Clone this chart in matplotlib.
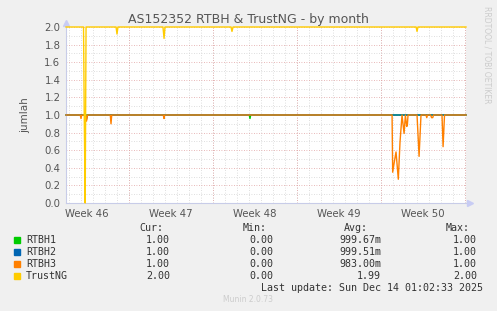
import matplotlib
matplotlib.use("Agg")
import matplotlib.pyplot as plt
import numpy as np

# time axis in days from the left edge of the graph window
week_labels = ["Week 46", "Week 47", "Week 48", "Week 49", "Week 50"]
week_starts = [5.25, 12.25, 19.25, 26.25, 33.25]
x_end = 33.33

# TrustNG (sits at 2.0 with a few dips)
trust_x = [0.0, 1.46, 1.52, 1.60, 1.67, 4.17, 4.25, 4.33, 8.08, 8.17, 8.25,
           13.75, 13.83, 13.92, 29.17, 29.25, 29.33, 33.33]
trust_y = [2.0, 2.0, 1.0, 0.0, 2.0, 2.0, 1.92, 2.0, 2.0, 1.87, 2.0,
           2.0, 1.95, 2.0, 2.0, 1.95, 2.0, 2.0]

# RTBH1
rtbh1_x = [0.0, 15.27, 15.33, 15.39, 33.33]
rtbh1_y = [1.0, 1.0, 0.96, 1.0, 1.0]

# RTBH2
rtbh2_x = [0.0, 1.63, 1.71, 1.79, 8.11, 8.17, 8.22, 33.33]
rtbh2_y = [1.0, 1.0, 0.95, 1.0, 1.0, 0.97, 1.0, 1.0]

# RTBH3
rtbh3_x = [0.0, 1.19, 1.25, 1.31, 1.63, 1.71, 1.79, 3.69, 3.75, 3.81,
           8.11, 8.17, 8.22,
           27.17, 27.22, 27.36, 27.50, 27.69, 27.83, 28.00, 28.17, 28.28,
           28.39, 28.44, 28.50, 29.25, 29.42, 29.58, 30.00, 30.06, 30.12,
           30.38, 30.46, 30.56, 30.62, 31.33, 31.42, 31.54, 33.33]
rtbh3_y = [1.0, 1.0, 0.96, 1.0, 1.0, 0.93, 1.0, 1.0, 0.90, 1.0,
           1.0, 0.96, 1.0,
           1.0, 0.35, 0.47, 0.58, 0.27, 0.69, 1.0, 0.79, 1.0,
           0.87, 0.88, 1.0, 1.0, 0.53, 1.0, 1.0, 0.97, 1.0,
           1.0, 0.97, 0.97, 1.0, 1.0, 0.64, 1.0, 1.0]

# legend table
names = ["RTBH1", "RTBH2", "RTBH3", "TrustNG"]
colors = ["#00CC00", "#0066B3", "#FF8000", "#FFCC00"]
cur = ["1.00", "1.00", "1.00", "2.00"]
mins = ["0.00", "0.00", "0.00", "0.00"]
avgs = ["999.67m", "999.51m", "983.00m", "1.99"]
maxs = ["1.00", "1.00", "1.00", "2.00"]

W, H = 497, 311
fig = plt.figure(figsize=(W / 100, H / 100), dpi=100, facecolor="#F0F0F0")
ax = fig.add_axes([66 / W, 108 / H, 400 / W, 176 / H])
ax.set_facecolor("white")

# grid
for d in np.arange(0.25, x_end, 1.0):
    ax.axvline(d, color="#D4D4D4", lw=0.6, ls=(0, (1, 2)), zorder=0)
for w in week_starts:
    ax.axvline(w, color="#E0A0A0", lw=0.6, ls=(0, (1, 2)), zorder=0)
for v in np.arange(0.1, 2.0, 0.2):
    ax.axhline(v, color="#D4D4D4", lw=0.6, ls=(0, (1, 2)), zorder=0)
for v in np.arange(0.2, 2.01, 0.2):
    ax.axhline(v, color="#E0A0A0", lw=0.6, ls=(0, (1, 2)), zorder=0)

lw = 1.0
ax.plot(rtbh1_x, rtbh1_y, color=colors[0], lw=lw, zorder=2, clip_on=False)
ax.plot(rtbh2_x, rtbh2_y, color=colors[1], lw=lw, zorder=3, clip_on=False)
ax.plot(rtbh3_x, rtbh3_y, color=colors[2], lw=lw, zorder=4, clip_on=False)
ax.plot(trust_x, trust_y, color=colors[3], lw=lw, zorder=5, clip_on=False)

ax.set_xlim(0, x_end)
ax.set_ylim(0, 2.0)
for s in ["top", "right"]:
    ax.spines[s].set_visible(False)
for s in ["left", "bottom"]:
    ax.spines[s].set_color("#C8CCE8")
    ax.spines[s].set_linewidth(0.8)

ax.set_yticks(np.arange(0, 2.01, 0.2))
ax.set_yticklabels([f"{v:.1f}" for v in np.arange(0, 2.01, 0.2)])
ax.set_xticks([w - 3.5 for w in week_starts])
ax.set_xticklabels(week_labels)
ax.tick_params(axis="both", length=0, labelsize=7.3, labelcolor="#555555", pad=4)
ax.set_ylabel("jumlah", fontsize=7.5, color="#555555", labelpad=10)

# arrows at the ends of the axes
ax.plot([0], [2.05], marker="^", ms=4, color="#C8CCF4", clip_on=False)
ax.plot([x_end + 0.35], [0], marker=">", ms=4, color="#C8CCF4", clip_on=False)

fig.text(248 / W, 1 - 19 / H, "AS152352 RTBH & TrustNG - by month",
         ha="center", va="center", fontsize=9, color="#555555")
fig.text(487 / W, 1 - 6 / H, "RRDTOOL / TOBI OETIKER", rotation=270,
         ha="center", va="top", fontsize=5.5, color="#CCCCCC")

mono = "DejaVu Sans Mono"
fs = 7.2
tc = "#333333"
hy = 1 - 228 / H
fig.text(163 / W, hy, "Cur:", ha="right", va="center", family=mono, fontsize=fs, color=tc)
fig.text(267 / W, hy, "Min:", ha="right", va="center", family=mono, fontsize=fs, color=tc)
fig.text(368 / W, hy, "Avg:", ha="right", va="center", family=mono, fontsize=fs, color=tc)
fig.text(470 / W, hy, "Max:", ha="right", va="center", family=mono, fontsize=fs, color=tc)
for i, name in enumerate(names):
    y = 1 - (240 + 12 * i) / H
    fig.patches.append(plt.Rectangle((14 / W, y - 3 / H), 6 / W, 6 / H,
                                     transform=fig.transFigure, color=colors[i]))
    fig.text(26 / W, y, name, ha="left", va="center", family=mono, fontsize=fs, color=tc)
    fig.text(170 / W, y, cur[i], ha="right", va="center", family=mono, fontsize=fs, color=tc)
    fig.text(273 / W, y, mins[i], ha="right", va="center", family=mono, fontsize=fs, color=tc)
    fig.text(381 / W, y, avgs[i], ha="right", va="center", family=mono, fontsize=fs, color=tc)
    fig.text(477 / W, y, maxs[i], ha="right", va="center", family=mono, fontsize=fs, color=tc)

fig.text(483 / W, 1 - 288 / H, "Last update: Sun Dec 14 01:02:33 2025",
         ha="right", va="center", family=mono, fontsize=fs, color=tc)
fig.text(248 / W, 1 - 300 / H, "Munin 2.0.73", ha="center", va="center",
         fontsize=5.5, color="#CCCCCC")

fig.savefig("out.png", dpi=100, facecolor=fig.get_facecolor())
